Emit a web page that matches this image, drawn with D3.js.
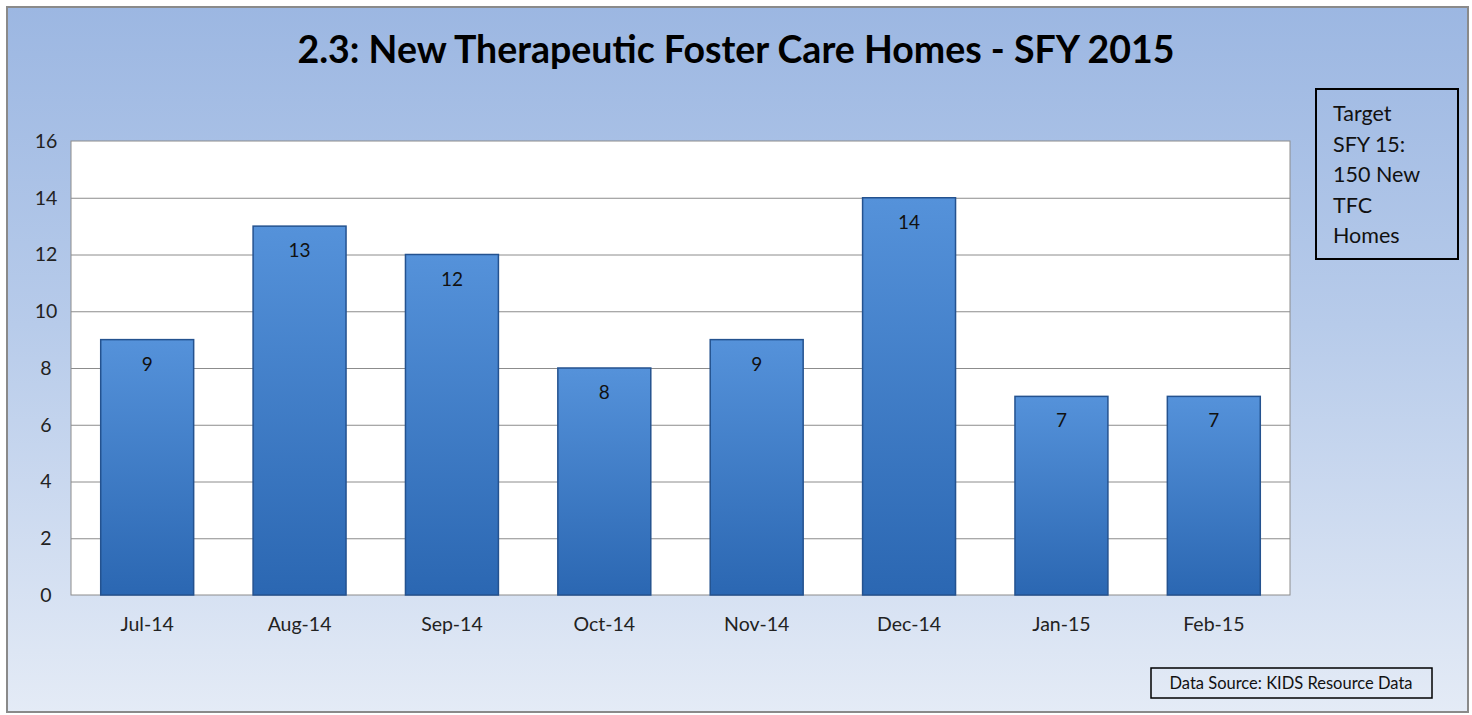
<!DOCTYPE html>
<html><head><meta charset="utf-8">
<script src="https://cdn.jsdelivr.net/npm/d3@7/dist/d3.min.js"></script>
<style>body{margin:0;background:#fff;}svg{display:block;}</style>
</head><body>
<svg id="c" width="1472" height="715"></svg>
<script>
const categories = ["Jul-14","Aug-14","Sep-14","Oct-14","Nov-14","Dec-14","Jan-15","Feb-15"];
const values = [9,13,12,8,9,14,7,7];
const yTicks = [0,2,4,6,8,10,12,14,16];
const titleText = "2.3: New Therapeutic Foster Care Homes - SFY 2015";
const targetLines = ["Target","SFY 15:","150 New","TFC","Homes"];
const sourceText = "Data Source: KIDS Resource Data";

const font = "Lato, 'Open Sans', sans-serif";
const svg = d3.select("#c");
const defs = svg.append("defs");
const bg = defs.append("linearGradient").attr("id","bg").attr("x1",0).attr("y1",0).attr("x2",0).attr("y2",1);
bg.append("stop").attr("offset","0%").attr("stop-color","#9cb7e2");
bg.append("stop").attr("offset","45%").attr("stop-color","#b7cbea");
bg.append("stop").attr("offset","100%").attr("stop-color","#e4ebf6");
const bar = defs.append("linearGradient").attr("id","bar").attr("x1",0).attr("y1",0).attr("x2",0).attr("y2",1);
bar.append("stop").attr("offset","0%").attr("stop-color","#5592da");
bar.append("stop").attr("offset","100%").attr("stop-color","#2b67b2");

svg.append("rect").attr("x",7).attr("y",7).attr("width",1461).attr("height",705)
  .attr("fill","url(#bg)").attr("stroke","#8a8a8a").attr("stroke-width",2);

const m = {left:71, right:1290, top:141, bottom:595};
const x = d3.scaleBand().domain(categories).range([m.left,m.right]).paddingInner(0.39).paddingOuter(0.195);
const y = d3.scaleLinear().domain([0,16]).range([m.bottom,m.top]);

svg.append("rect").attr("x",m.left).attr("y",m.top).attr("width",m.right-m.left).attr("height",m.bottom-m.top)
  .attr("fill","#fff").attr("stroke","#8c8c8c").attr("stroke-width",1);

svg.append("g").selectAll("line").data(yTicks.filter(d=>d>0&&d<16)).join("line")
  .attr("x1",m.left).attr("x2",m.right).attr("y1",d=>y(d)+0.5).attr("y2",d=>y(d)+0.5)
  .attr("stroke","#8c8c8c").attr("stroke-width",1);

const yAxis = svg.append("g").attr("transform",`translate(${m.left},0)`)
  .call(d3.axisLeft(y).tickValues(yTicks).tickSize(0).tickPadding(20));
yAxis.select(".domain").remove();
yAxis.selectAll("text").attr("font-family",font).attr("font-size",19.5).attr("fill","#222").attr("text-anchor","middle").attr("dx",-5);

const xAxis = svg.append("g").attr("transform",`translate(0,${m.bottom})`)
  .call(d3.axisBottom(x).tickSize(0).tickPadding(22));
xAxis.select(".domain").remove();
xAxis.selectAll("text").attr("font-family",font).attr("font-size",19.5).attr("fill","#222");

svg.append("g").selectAll("rect").data(values).join("rect")
  .attr("x",(d,i)=>x(categories[i])).attr("y",d=>y(d))
  .attr("width",x.bandwidth()).attr("height",d=>y(0)-y(d))
  .attr("fill","url(#bar)").attr("stroke","#24528f").attr("stroke-width",1.5);

svg.append("g").selectAll("text").data(values).join("text")
  .attr("x",(d,i)=>x(categories[i])+x.bandwidth()/2).attr("y",d=>y(d)+31)
  .attr("text-anchor","middle").attr("font-family",font).attr("font-size",19).attr("fill","#111")
  .text(d=>d);

svg.append("text").attr("x",736).attr("y",63).attr("text-anchor","middle")
  .attr("font-family",font).attr("font-weight","bold").attr("font-size",37.5).attr("fill","#000")
  .text(titleText);

svg.append("rect").attr("x",1316).attr("y",89).attr("width",142).attr("height",170)
  .attr("fill","none").attr("stroke","#000").attr("stroke-width",2);
svg.append("g").selectAll("text").data(targetLines).join("text")
  .attr("x",1333).attr("y",(d,i)=>121+i*30.5)
  .attr("font-family",font).attr("font-size",21.5).attr("fill","#111").text(d=>d);

svg.append("rect").attr("x",1151).attr("y",668).attr("width",281).attr("height",30)
  .attr("fill","none").attr("stroke","#000").attr("stroke-width",1.5);
svg.append("text").attr("x",1291).attr("y",689).attr("text-anchor","middle")
  .attr("font-family",font).attr("font-size",16.5).attr("fill","#111").text(sourceText);
</script>
</body></html>
